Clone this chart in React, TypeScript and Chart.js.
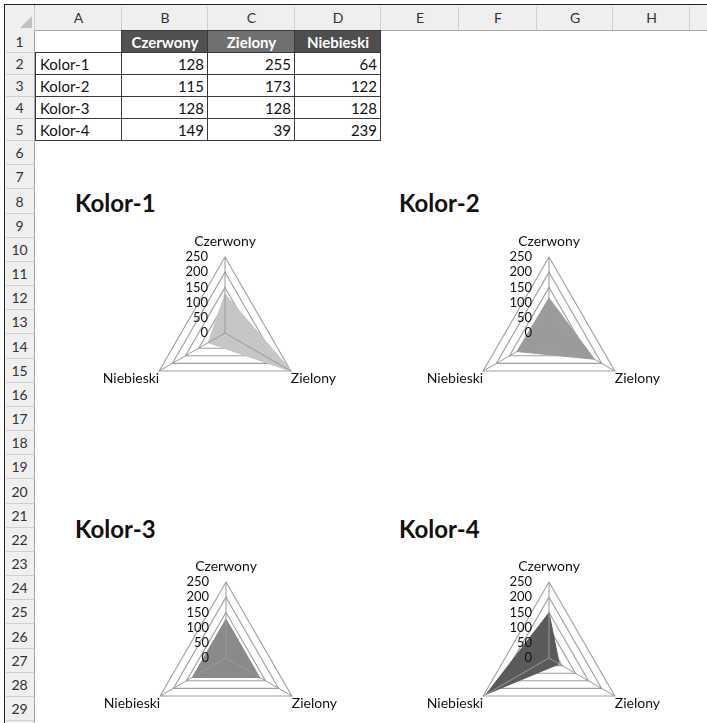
import React, { useEffect, useRef } from "react";
import { Chart, registerables } from "chart.js";

Chart.register(...registerables);

// ---- data ----
const categories = ["Czerwony", "Zielony", "Niebieski"];
const seriesNames = ["Kolor-1", "Kolor-2", "Kolor-3", "Kolor-4"];
const kolor1 = [128, 255, 64];
const kolor2 = [115, 173, 122];
const kolor3 = [128, 128, 128];
const kolor4 = [149, 39, 239];
const rAxisTicks = [0, 50, 100, 150, 200, 250];
const columnLetters = ["A", "B", "C", "D", "E", "F", "G", "H", "I"];
const rowNumbers = Array.from({ length: 30 }, (_, i) => i + 1);

const seriesValues = [kolor1, kolor2, kolor3, kolor4];

// ---- styles ----
const FONT = "Lato, 'Liberation Sans', sans-serif";
const FILLS = ["#c6c6c6", "#9b9b9b", "#8a8a8a", "#5a5a5a"];
const GRID = "#9f9f9f";
const SPOKE = "#999999";
const CANVAS_W = 300;
const CANVAS_H = 198;
const chartPos = [
  { left: 75, top: 223, titleLeft: 75, titleTop: 191 },
  { left: 399, top: 223, titleLeft: 399, titleTop: 191 },
  { left: 76, top: 548, titleLeft: 75, titleTop: 517 },
  { left: 399, top: 548, titleLeft: 399, titleTop: 517 },
];

const colEdges = [35, 122, 208, 295, 381, 459, 537, 613, 690, 768];
const rowEdge = (n: number) => (n <= 5 ? 31 + 22 * n : 141 + (n - 5) * 24.17);

const tickLabelPlugin = {
  id: "excelTickLabels",
  afterDraw(chart: any) {
    const s = chart.scales.r;
    const ctx = chart.ctx;
    ctx.save();
    ctx.font = `13px ${FONT}`;
    ctx.fillStyle = "#111";
    ctx.textAlign = "right";
    ctx.textBaseline = "middle";
    s.ticks.forEach((t: any) => {
      const d = s.getDistanceFromCenterForValue(t.value);
      ctx.fillText(String(t.label), s.xCenter - 17, s.yCenter - d);
    });
    ctx.restore();
  },
};

const pointLabelFont = { family: FONT, size: 14, lineHeight: 1 };
const pointLabelPadding = (c: any) => (c.index === 0 ? 9 : 0);

function RadarChart({ idx }: { idx: number }) {
  const ref = useRef<HTMLCanvasElement>(null);
  useEffect(() => {
    const chart = new Chart(ref.current as HTMLCanvasElement, {
      type: "radar",
      data: {
        labels: categories,
        datasets: [
          {
            label: seriesNames[idx],
            data: seriesValues[idx],
            fill: true,
            backgroundColor: FILLS[idx],
            borderColor: FILLS[idx],
            borderWidth: 1,
            pointRadius: 0,
            rAxisID: "r",
          } as any,
        ],
      },
      options: {
        responsive: false,
        animation: false,
        events: [],
        layout: { padding: 0 },
        plugins: {
          legend: { display: false },
          tooltip: { enabled: false },
          title: { display: false },
        },
        scales: {
          r: {
            type: "radialLinear",
            min: 0,
            max: 250,
            afterBuildTicks: (scale: any) => {
              scale.ticks = rAxisTicks.map((v) => ({ value: v }));
            },
            ticks: { display: false, stepSize: 50 },
            grid: { color: GRID, lineWidth: 1.1 },
            angleLines: { display: false },
            pointLabels: {
              font: pointLabelFont,
              color: "#111",
              padding: pointLabelPadding,
            },
          },
          r2: {
            type: "radialLinear",
            axis: "r",
            min: 0,
            max: 250,
            ticks: { display: false, stepSize: 50 },
            grid: { display: false, z: 1 },
            angleLines: { display: true, color: SPOKE, lineWidth: 1 },
            pointLabels: {
              font: pointLabelFont,
              color: "rgba(0,0,0,0)",
              padding: pointLabelPadding,
            },
          },
        } as any,
      },
      plugins: [tickLabelPlugin],
    });
    return () => chart.destroy();
  }, [idx]);
  const p = chartPos[idx];
  return (
    <>
      <div
        style={{
          position: "absolute",
          left: p.titleLeft,
          top: p.titleTop,
          fontFamily: FONT,
          fontWeight: 700,
          fontSize: 24,
          lineHeight: "24px",
          color: "#111",
          whiteSpace: "nowrap",
        }}
      >
        {seriesNames[idx]}
      </div>
      <canvas
        ref={ref}
        width={CANVAS_W}
        height={CANVAS_H}
        style={{ position: "absolute", left: p.left, top: p.top, width: CANVAS_W, height: CANVAS_H }}
      />
    </>
  );
}

function abs(left: number, top: number, width: number, height: number, extra: any = {}) {
  return { position: "absolute" as const, left, top, width, height, ...extra };
}

function Sheet() {
  const els: any[] = [];
  els.push(<div key="hdr" style={abs(5, 5, 702, 25, { background: "#efefef", borderBottom: "1px solid #a9a9a9" })} />);
  els.push(<div key="rhdr" style={abs(5, 5, 29, 718, { background: "#efefef", borderRight: "1px solid #a9a9a9" })} />);
  els.push(
    <div
      key="tri"
      style={abs(20, 16, 0, 0, {
        borderLeft: "12px solid transparent",
        borderBottom: "12px solid #c2c2c2",
      })}
    />
  );
  columnLetters.forEach((L, i) => {
    const x0 = colEdges[i];
    const x1 = colEdges[i + 1];
    els.push(
      <div
        key={"cl" + L}
        style={abs(x0, 5, x1 - x0, 25, {
          fontFamily: FONT,
          fontSize: 14,
          lineHeight: "25px",
          textAlign: "center",
          color: "#333",
        })}
      >
        {L}
      </div>
    );
    els.push(<div key={"cs" + L} style={abs(x1 - 1, 7, 1, 23, { background: "#cfcfcf" })} />);
  });
  els.push(<div key="cs0" style={abs(34, 7, 1, 23, { background: "#cfcfcf" })} />);
  rowNumbers.forEach((n) => {
    const y0 = rowEdge(n - 1);
    const y1 = rowEdge(n);
    els.push(
      <div
        key={"rn" + n}
        style={abs(5, Math.round(y0), 29, Math.round(y1) - Math.round(y0), {
          fontFamily: FONT,
          fontSize: 14,
          lineHeight: Math.round(y1) - Math.round(y0) + "px",
          textAlign: "center",
          color: "#333",
        })}
      >
        {n}
      </div>
    );
    els.push(<div key={"rs" + n} style={abs(6, Math.round(y1) - 1, 28, 1, { background: "#cfcfcf" })} />);
  });

  const hdrFills = ["#515151", "#707070", "#4e4e4e"];
  categories.forEach((c, i) => {
    const x0 = colEdges[i + 1];
    const x1 = colEdges[i + 2];
    els.push(
      <div
        key={"hc" + i}
        style={abs(x0, 31, x1 - x0, 22, {
          background: hdrFills[i],
          color: "#fff",
          fontFamily: FONT,
          fontWeight: 700,
          fontSize: 15,
          lineHeight: "22px",
          textAlign: "center",
        })}
      >
        {c}
      </div>
    );
  });
  seriesNames.forEach((name, r) => {
    const y0 = rowEdge(r + 1);
    const y1 = rowEdge(r + 2);
    els.push(
      <div
        key={"lab" + r}
        style={abs(colEdges[0], y0, colEdges[1] - colEdges[0], y1 - y0, {
          fontFamily: FONT,
          fontSize: 15,
          lineHeight: y1 - y0 + "px",
          paddingLeft: 5,
          boxSizing: "border-box",
          color: "#111",
        })}
      >
        {name}
      </div>
    );
    seriesValues[r].forEach((v, c) => {
      const x0 = colEdges[c + 1];
      const x1 = colEdges[c + 2];
      els.push(
        <div
          key={"v" + r + c}
          style={abs(x0, y0, x1 - x0, y1 - y0, {
            fontFamily: FONT,
            fontSize: 15,
            lineHeight: y1 - y0 + "px",
            textAlign: "right",
            paddingRight: 4,
            boxSizing: "border-box",
            color: "#111",
          })}
        >
          {v}
        </div>
      );
    });
  });
  const B = "#3a3a3a";
  [1, 2, 3, 4, 5].forEach((n) => {
    const y = Math.round(rowEdge(n)) - 1;
    els.push(<div key={"tb" + n} style={abs(35, y, 381 - 35, 1, { background: B })} />);
  });
  els.push(<div key="tbt" style={abs(122, 30, 381 - 122, 1, { background: B })} />);
  els.push(<div key="tvl" style={abs(35, 52, 1, 141 - 52, { background: B })} />);
  [122, 208, 295, 381].forEach((x) => {
    els.push(<div key={"tv" + x} style={abs(x - 1, 30, 1, 141 - 30, { background: B })} />);
  });
  els.push(<div key="ft" style={abs(4, 4, 703, 1, { background: "#222" })} />);
  els.push(<div key="fl" style={abs(4, 4, 1, 719, { background: "#222" })} />);
  return <>{els}</>;
}

export default function App() {
  return (
    <div
      style={{
        position: "fixed",
        left: 0,
        top: 0,
        width: 707,
        height: 723,
        overflow: "hidden",
        background: "#fff",
      }}
    >
      <Sheet />
      {[0, 1, 2, 3].map((i) => (
        <RadarChart key={i} idx={i} />
      ))}
    </div>
  );
}
